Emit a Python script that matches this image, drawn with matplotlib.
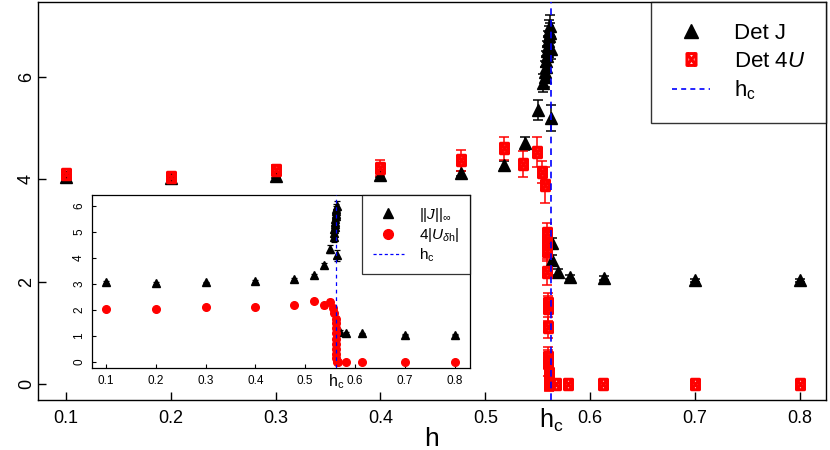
import numpy as np
import matplotlib
matplotlib.use("Agg")
import matplotlib.pyplot as plt
from matplotlib.path import Path
from matplotlib.lines import Line2D

plt.rcParams['font.family'] = ['Liberation Sans', 'DejaVu Sans']
plt.rcParams['mathtext.fontset'] = 'custom'
plt.rcParams['mathtext.rm'] = 'Liberation Sans'
plt.rcParams['mathtext.it'] = 'Liberation Sans:italic'
plt.rcParams['mathtext.bf'] = 'Liberation Sans:bold'

# ---------------- data ----------------
hc = 0.5627

# main: Det J
h_J = [0.1, 0.2, 0.3, 0.4, 0.477, 0.518, 0.538, 0.550, 0.5554,
       0.5565, 0.5570, 0.5575, 0.5580, 0.5585, 0.5590, 0.5595, 0.5600,
       0.5605, 0.5610, 0.5615, 0.5620, 0.5624, 0.5627,
       0.5635, 0.5637, 0.569, 0.581, 0.613, 0.70, 0.80]
det_J = [4.05, 4.02, 4.07, 4.08, 4.12, 4.28, 4.70, 5.35, 5.88,
         6.00, 6.10, 6.20, 6.30, 6.40, 6.50, 6.60, 6.70,
         6.80, 6.90, 7.00, 6.85, 6.55, 5.20,
         2.75, 2.42, 2.19, 2.09, 2.07, 2.03, 2.03]
err_J = [0.04, 0.04, 0.04, 0.04, 0.05, 0.08, 0.12, 0.20, 0.17,
         0.20, 0.20, 0.20, 0.20, 0.20, 0.20, 0.20, 0.20,
         0.20, 0.20, 0.20, 0.20, 0.20, 0.25,
         0.10, 0.10, 0.05, 0.04, 0.04, 0.03, 0.03]

# main: Det 4U
h_U = [0.1, 0.2, 0.3, 0.4, 0.477, 0.518, 0.536, 0.549, 0.5545, 0.5565,
       0.5585, 0.5588, 0.5590, 0.5592, 0.5594, 0.5596, 0.5598, 0.5600,
       0.5602, 0.5604, 0.5606, 0.5608, 0.5610,
       0.5603, 0.567, 0.579, 0.612, 0.70, 0.80]
det_U = [4.10, 4.05, 4.18, 4.22, 4.37, 4.60, 4.30, 4.53, 4.14, 3.88,
         2.95, 2.75, 2.60, 2.19, 1.58, 1.48, 1.11, 0.53,
         0.41, 0.21, 0.10, 0.02, 0.00,
         0.0, 0.0, 0.0, 0.0, 0.0, 0.0]
err_U = [0.05, 0.05, 0.10, 0.15, 0.20, 0.22, 0.25, 0.30, 0.22, 0.35,
         0.20, 0.25, 0.20, 0.25, 0.20, 0.25, 0.20, 0.20,
         0.25, 0.20, 0.20, 0.15, 0.10,
         0.0, 0.0, 0.0, 0.0, 0.0, 0.0]

# inset: ||J||_inf
h_Ji = [0.1, 0.2, 0.3, 0.4, 0.477, 0.517, 0.538, 0.550,
        0.5575, 0.5580, 0.5585, 0.5590, 0.5595, 0.5600, 0.5605, 0.5610,
        0.5615, 0.5620, 0.5625, 0.5630,
        0.5632, 0.569, 0.583, 0.615, 0.70, 0.80]
J_inf = [3.08, 3.04, 3.06, 3.12, 3.18, 3.33, 3.72, 4.35,
         4.80, 4.95, 5.10, 5.20, 5.30, 5.40, 5.50, 5.60,
         5.70, 5.80, 5.90, 6.00,
         4.10, 1.17, 1.12, 1.10, 1.05, 1.05]
err_Ji = [0.03, 0.03, 0.03, 0.03, 0.04, 0.06, 0.08, 0.15,
          0.18, 0.18, 0.18, 0.18, 0.18, 0.18, 0.18, 0.18,
          0.18, 0.18, 0.18, 0.18,
          0.20, 0.05, 0.03, 0.03, 0.02, 0.02]

# inset: 4|U_dh|
h_Ui = [0.1, 0.2, 0.3, 0.4, 0.477, 0.517, 0.538, 0.550, 0.556, 0.5585,
        0.5612, 0.5614, 0.5616, 0.5618, 0.5620, 0.5622, 0.5624, 0.5626,
        0.5628, 0.5630, 0.5632,
        0.566, 0.583, 0.615, 0.70, 0.80]
U_dh = [2.05, 2.02, 2.10, 2.13, 2.18, 2.33, 2.18, 2.30, 2.08, 1.90,
        1.65, 1.50, 1.30, 1.10, 0.90, 0.70, 0.50, 0.30,
        0.15, 0.05, 0.00,
        0.0, 0.0, 0.0, 0.0, 0.0]
err_Ui = [0.04, 0.04, 0.05, 0.06, 0.08, 0.08, 0.10, 0.12, 0.10, 0.10,
          0.10, 0.10, 0.10, 0.10, 0.10, 0.10, 0.10, 0.10,
          0.10, 0.08, 0.05,
          0.0, 0.0, 0.0, 0.0, 0.0]

xticks_main = [0.1, 0.2, 0.3, 0.4, 0.5, 0.6, 0.7, 0.8]
xticklabels_main = ['0.1', '0.2', '0.3', '0.4', '0.5', '0.6', '0.7', '0.8']
yticks_main = [0, 2, 4, 6]
yticks_inset = [0, 1, 2, 3, 4, 5, 6]

# ---------------- marker: square with X (R pch=7) ----------------
sq = 0.38
box_x = Path([(-sq, -0.5), (sq, -0.5), (sq, 0.5), (-sq, 0.5), (-sq, -0.5),
              (-sq, -0.5), (sq, 0.5), (sq, -0.5), (-sq, 0.5)],
             [Path.MOVETO, Path.LINETO, Path.LINETO, Path.LINETO, Path.CLOSEPOLY,
              Path.MOVETO, Path.LINETO, Path.MOVETO, Path.LINETO])

RED = '#ff0000'

fig = plt.figure(figsize=(8.3, 4.5), dpi=100)
ax = fig.add_axes([37.7 / 830, 50 / 450, (826 - 37.7) / 830, (448 - 50) / 450])

def draw_err(a, x, y, e, color, capsize, lw):
    x = np.asarray(x); y = np.asarray(y); e = np.asarray(e)
    m = e > 0
    a.errorbar(x[m], y[m], yerr=e[m], fmt='none', ecolor=color,
               elinewidth=lw, capsize=capsize, capthick=lw, zorder=2)

# main series
draw_err(ax, h_J, det_J, err_J, 'black', 3.6, 1.1)
draw_err(ax, h_U, det_U, err_U, RED, 3.6, 1.1)
ax.plot(h_J, det_J, linestyle='none', marker='^', ms=8, color='black',
        mec='black', zorder=3)
ax.plot(h_U, det_U, linestyle='none', marker=box_x, ms=7.5, mfc='none',
        mec=RED, mew=2.2, zorder=3)
ax.axvline(hc, color='blue', linestyle=(0, (4, 3)), lw=1.2, zorder=4)

ax.set_xlim(0.073, 0.825)
ax.set_ylim(-0.31, 7.46)
ax.set_xticks(xticks_main, labels=xticklabels_main)
ax.set_xticks([hc], labels=[r'$\mathregular{h_c}$'], minor=True)
ax.set_yticks(yticks_main, labels=[str(v) for v in yticks_main])
ax.tick_params(axis='both', which='major', direction='in', length=6,
               width=1, labelsize=13)
ax.tick_params(axis='x', which='major', pad=7)
ax.tick_params(axis='x', which='minor', length=0, labelsize=18, pad=5)
for lab in ax.get_yticklabels():
    lab.set_rotation(90)
    lab.set_va('center')
ax.tick_params(axis='y', pad=2)
ax.set_xlabel('h', fontsize=19, labelpad=-5)
for s in ax.spines.values():
    s.set_linewidth(1.0)

# main legend
handles = [
    Line2D([], [], linestyle='none', marker='^', ms=10, color='black'),
    Line2D([], [], linestyle='none', marker=box_x, ms=8.5, mfc='none', mec=RED, mew=2.2),
    Line2D([], [], color='blue', linestyle=(0, (3, 2.5)), lw=1.2),
]
leg = ax.legend(handles, ['Det J', r'Det 4$\mathit{U}$', r'$\mathregular{h_c}$'],
                loc='upper right', fontsize=16, frameon=True, fancybox=False,
                edgecolor='black', borderaxespad=0, handlelength=1.7,
                handletextpad=1.05, labelspacing=0.3, borderpad=0.95)
leg.get_frame().set_linewidth(1.0)
leg.set_zorder(10)

# ---------------- inset ----------------
axi = fig.add_axes([92 / 830, (450 - 368) / 450, (470 - 92) / 830, (368 - 195) / 450])
axi.set_facecolor('white')
draw_err(axi, h_Ji, J_inf, err_Ji, 'black', 2.5, 0.9)
draw_err(axi, h_Ui, U_dh, err_Ui, RED, 2.5, 0.9)
axi.plot(h_Ji, J_inf, linestyle='none', marker='^', ms=6, color='black', zorder=3)
axi.plot(h_Ui, U_dh, linestyle='none', marker='o', ms=5.5, color=RED, zorder=3)
axi.axvline(hc, color='blue', linestyle=(0, (3, 3)), lw=0.9, zorder=4)
axi.set_xlim(0.072, 0.831)
axi.set_ylim(-0.23, 6.42)
axi.set_xticks(xticks_main, labels=xticklabels_main)
axi.set_xticks([hc], labels=[r'$\mathregular{h_c}$'], minor=True)
axi.set_yticks(yticks_inset, labels=[str(v) for v in yticks_inset])
axi.tick_params(axis='both', which='major', direction='in', length=3,
                width=0.8, labelsize=8.5)
axi.tick_params(axis='x', which='major', pad=5)
axi.tick_params(axis='x', which='minor', length=0, labelsize=11.5, pad=3)
axi.tick_params(axis='y', pad=5)
for lab in axi.get_yticklabels():
    lab.set_rotation(90)
    lab.set_va('center')
for s in axi.spines.values():
    s.set_linewidth(0.9)

handles_i = [
    Line2D([], [], linestyle='none', marker='^', ms=7, color='black'),
    Line2D([], [], linestyle='none', marker='o', ms=7, color=RED),
    Line2D([], [], color='blue', linestyle=(0, (2.5, 2)), lw=0.9),
]
legi = axi.legend(handles_i, [r'$||J||_\infty$', r'$4|\mathit{U}_{\delta\mathrm{h}}|$',
                              r'$\mathregular{h_c}$'],
                  loc='upper right', fontsize=11, frameon=True, fancybox=False,
                  edgecolor='black', borderaxespad=0, handlelength=2.0,
                  handletextpad=1.0, labelspacing=0.15, borderpad=0.7)
legi.get_frame().set_linewidth(0.9)

fig.savefig('out.png', dpi=100)
